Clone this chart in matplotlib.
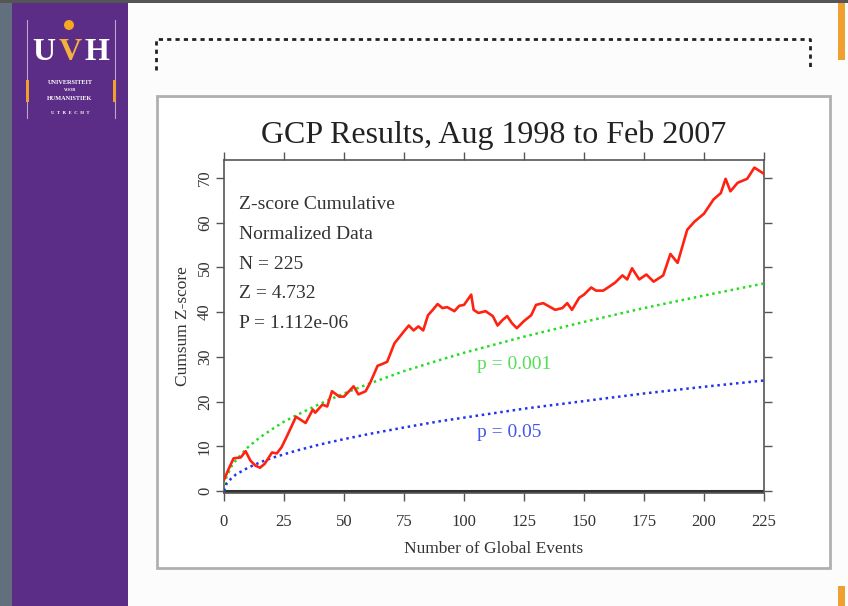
import matplotlib
matplotlib.use("Agg")
from matplotlib import pyplot as plt
from matplotlib.patches import Rectangle, Ellipse
from matplotlib.lines import Line2D

W, H = 848, 606

# cumulative z-score per global event
events = [0, 2, 4, 7, 9, 11, 13, 15, 17, 20, 22, 24, 26, 30, 32, 34, 37, 38, 41, 43,
          45, 48, 50, 54, 56, 59, 61, 64, 66, 68, 71, 75, 77, 79, 81, 83, 85, 87, 89, 91,
          93, 96, 98, 100, 103, 104, 106, 109, 112, 114, 116, 118, 120, 122, 125, 128, 130, 133, 135, 138,
          141, 143, 145, 148, 150, 153, 155, 158, 160, 163, 166, 168, 170, 173, 176, 179, 183, 186, 189, 193,
          196, 200, 204, 207, 209, 211, 214, 218, 221, 225]
cumsum_z = [2.5, 5.0, 7.3, 7.5, 8.9, 6.8, 5.7, 5.2, 6.1, 8.6, 8.4, 9.8, 12.0, 16.6, 15.9, 15.2, 18.2, 17.5, 19.3, 18.9,
            22.3, 21.1, 21.1, 23.4, 21.6, 22.3, 24.3, 28.0, 28.4, 28.9, 33.0, 35.7, 37.0, 35.9, 36.8, 35.9, 39.3, 40.5, 41.8, 40.9,
            41.1, 40.2, 41.4, 41.6, 43.9, 40.5, 39.8, 40.2, 39.1, 37.0, 38.2, 39.1, 37.5, 36.4, 38.0, 39.3, 41.6, 42.0, 41.4, 40.5,
            40.9, 42.0, 40.5, 43.2, 43.9, 45.5, 44.8, 44.8, 45.5, 46.6, 48.2, 47.3, 49.8, 47.3, 48.4, 46.8, 48.2, 53.0, 51.0, 58.4,
            60.2, 62.0, 65.2, 66.6, 69.8, 67.0, 68.9, 69.8, 72.3, 70.9]

# significance envelopes
ref_events = [0, 1, 3, 5, 10, 15, 20, 25, 30, 40, 50, 60, 75, 90, 100, 125, 150, 175, 200, 225]
p001_curve = [0.0, 3.1, 5.4, 6.9, 9.8, 12.0, 13.8, 15.5, 16.9, 19.5, 21.8, 23.9, 26.8, 29.3, 30.9, 34.5, 37.8, 40.9, 43.7, 46.4]
p05_curve = [0.0, 1.6, 2.8, 3.7, 5.2, 6.4, 7.4, 8.2, 9.0, 10.4, 11.6, 12.7, 14.2, 15.6, 16.4, 18.4, 20.1, 21.8, 23.3, 24.7]

x_ticks = [0, 25, 50, 75, 100, 125, 150, 175, 200, 225]
y_ticks = [0, 10, 20, 30, 40, 50, 60, 70]
stats_lines = ["Z-score Cumulative", "Normalized Data", "N = 225", "Z = 4.732", "P = 1.112e-06"]

SERIF = ["Liberation Serif", "DejaVu Serif"]
plt.rcParams["font.family"] = SERIF


def fx(x):
    return x / W


def fy(y):
    return 1 - y / H


def px_rect(x0, y0, x1, y1, **kw):
    return Rectangle((fx(x0), fy(y1)), (x1 - x0) / W, (y1 - y0) / H,
                     transform=fig.transFigure, **kw)


fig = plt.figure(figsize=(W / 100, H / 100), dpi=100)
fig.patch.set_facecolor("#fcfcfc")

# slide decoration
fig.add_artist(px_rect(0, 0, W, 3, facecolor="#555555", edgecolor="none", zorder=-2))
fig.add_artist(px_rect(0, 3, 12, H, facecolor="#62707e", edgecolor="none", zorder=-2))
fig.add_artist(px_rect(12, 3, 128, H, facecolor="#5b2d86", edgecolor="none", zorder=-2))
fig.add_artist(px_rect(838, 3, 845, 60, facecolor="#f0a030", edgecolor="none", zorder=-2))
fig.add_artist(px_rect(838, 586, 845, H, facecolor="#f0a030", edgecolor="none", zorder=-2))

# logo
for lx in (27, 115):
    fig.add_artist(Line2D([fx(lx), fx(lx)], [fy(20), fy(118)], transform=fig.transFigure,
                          color="#b9a6cc", lw=0.8, zorder=-1))
for lx in (27, 114):
    fig.add_artist(px_rect(lx - 1, 80, lx + 2, 102, facecolor="#f0a030", edgecolor="none", zorder=-1))
fig.add_artist(Ellipse((fx(69), fy(25)), 10 / W, 10 / H, transform=fig.transFigure,
                       facecolor="#f5a623", edgecolor="none", zorder=-1))
for letter, lx, col in (("U", 44, "white"), ("V", 70, "#f5b040"), ("H", 97, "white")):
    fig.text(fx(lx), fy(53), letter, color=col, fontsize=23, fontweight="bold",
             ha="center", va="center", family=SERIF)
fig.text(fx(70), fy(82), "UNIVERSITEIT", color="white", fontsize=4.5, fontweight="bold",
         ha="center", va="center", family=SERIF)
fig.text(fx(70), fy(90), "VOOR", color="white", fontsize=3, fontweight="bold",
         ha="center", va="center", family=SERIF)
fig.text(fx(70), fy(98), "HUMANISTIEK", color="white", fontsize=4.5, fontweight="bold",
         ha="center", va="center", family=SERIF)
fig.text(fx(70), fy(113), "U  T  R  E  C  H  T", color="white", fontsize=3.5, fontweight="bold",
         ha="center", va="center", family=SERIF)

# dotted placeholder box (open at the bottom)
fig.add_artist(Line2D([fx(156), fx(156), fx(810), fx(810)], [fy(70), fy(39), fy(39), fy(70)],
                      transform=fig.transFigure, color="#222222", lw=2,
                      linestyle=(0, (1.5, 1.5)), zorder=-1))

# chart panel
fig.add_artist(px_rect(157, 96, 830, 568, facecolor="white", edgecolor="#b0b0b0", lw=2, zorder=-1))

ax = fig.add_axes([fx(224), fy(493), (764 - 224) / W, (493 - 160) / H])
ax.set_xlim(0, 225)
ax.set_ylim(-0.45, 74)

ax.axhline(0, color="#333333", lw=2.2, zorder=2)
ax.plot(ref_events, p001_curve, color="#22dd22", lw=1.8, linestyle=(0, (1, 1.5)), zorder=3)
ax.plot(ref_events, p05_curve, color="#2233ee", lw=1.8, linestyle=(0, (1, 1.5)), zorder=3)
ax.plot(events, cumsum_z, color="#ff2211", lw=1.9, zorder=4)

for side in ("left", "right", "top", "bottom"):
    ax.spines[side].set_color("#555555")
    ax.spines[side].set_linewidth(1.2)

ax.set_xticks(x_ticks)
ax.set_yticks(y_ticks)
ax.tick_params(axis="both", which="major", direction="out", length=6, width=1.0,
               color="#555555", labelcolor="#333333", labelsize=12,
               top=True, right=True)
ax.tick_params(axis="x", pad=9)
ax.tick_params(axis="y", pad=2)
for lab in ax.get_yticklabels():
    lab.set_rotation(90)
    lab.set_va("center")

ax.set_xlabel("Number of Global Events", fontsize=12.5, color="#333333", labelpad=8)
ax.set_ylabel("Cumsum Z-score", fontsize=12.5, color="#333333", labelpad=4)
ax.set_title("GCP Results, Aug 1998 to Feb 2007", fontsize=23, color="#222222", pad=12)

for i, line in enumerate(stats_lines):
    ax.text(0.028, 0.865 - i * 0.089, line, transform=ax.transAxes, fontsize=14,
            color="#333333", ha="left", va="center")

ax.text(0.4685, 0.387, "p = 0.001", transform=ax.transAxes, fontsize=14,
        color="#55dd55", ha="left", va="center")
ax.text(0.4685, 0.183, "p = 0.05", transform=ax.transAxes, fontsize=14,
        color="#4455ee", ha="left", va="center")

fig.savefig("out.png", dpi=100)
